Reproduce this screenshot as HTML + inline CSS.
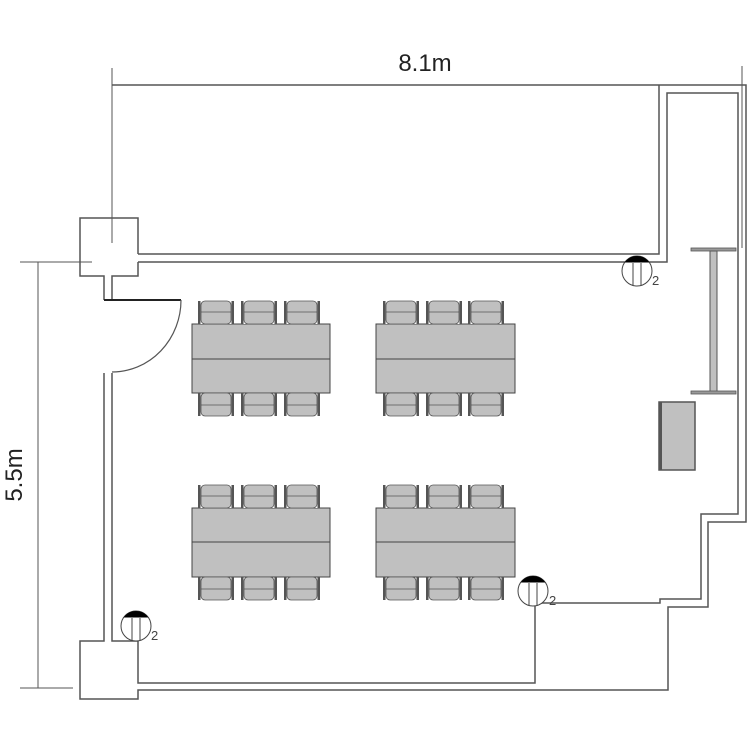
<!DOCTYPE html>
<html><head><meta charset="utf-8"><style>html,body{margin:0;padding:0;background:#fff}svg{display:block}</style></head>
<body>
<svg width="750" height="750" viewBox="0 0 750 750" xmlns="http://www.w3.org/2000/svg">
<defs>
<g id="chT">
  <rect x="0" y="0" width="36" height="24" fill="#fff"/>
  <rect x="3" y="1" width="30" height="23" rx="4" fill="#c0c0c0" stroke="#555" stroke-width="0.8"/>
  <line x1="3" y1="12" x2="33" y2="12" stroke="#555" stroke-width="0.8"/>
  <rect x="0" y="1" width="2.5" height="23" fill="#555"/>
  <rect x="33.5" y="1" width="2.5" height="23" fill="#555"/>
</g>
<g id="chB">
  <rect x="3" y="0" width="30" height="23" rx="4" fill="#c0c0c0" stroke="#555" stroke-width="0.8"/>
  <line x1="3" y1="12" x2="33" y2="12" stroke="#555" stroke-width="0.8"/>
  <rect x="0" y="0" width="2.5" height="23" fill="#555"/>
  <rect x="33.5" y="0" width="2.5" height="23" fill="#555"/>
</g>
<g id="outlet">
  <circle cx="0" cy="0" r="15" fill="#fff" stroke="#444" stroke-width="1"/>
  <path d="M-12.4,-8.5 A15,15 0 0 1 12.4,-8.5 Z" fill="#000"/>
  <line x1="-4" y1="-8" x2="-4" y2="15" stroke="#444" stroke-width="1"/>
  <line x1="4" y1="-8" x2="4" y2="15" stroke="#444" stroke-width="1"/>
</g>
</defs>
<g fill="none" stroke="#555" stroke-width="1.5">
  <!-- dimension lines -->
  <line x1="112" y1="68" x2="112" y2="243" stroke-width="1"/>
  <line x1="742" y1="66" x2="742" y2="248" stroke-width="1"/>
  <line x1="20" y1="262" x2="92" y2="262" stroke-width="1"/>
  <line x1="20" y1="688" x2="73" y2="688" stroke-width="1"/>
  <line x1="38" y1="262" x2="38" y2="688" stroke-width="1"/>
  <!-- top walls -->
  <polyline points="112,85 746,85 746,522 708,522 708,607 668,607 668,690 138,690 138,699 80,699 80,641 104,641 104,373"/>
  <polyline points="138,254 659,254 659,85"/>
  <polyline points="138,262 667,262 667,93 738,93 738,514 701,514 701,599 660,599 660,603 535,603 535,683 138,683 138,641 112,641 112,373"/>
  <polyline points="138,254 138,218 80,218 80,276 104,276 104,300"/>
  <polyline points="138,262 138,276 112,276 112,300"/>
  <line x1="104" y1="300" x2="181" y2="300" stroke="#222" stroke-width="2"/>
  <path d="M181,300 A69,72 0 0 1 112,372" stroke-width="1.2"/>
</g>
<!-- whiteboard -->
<rect x="691" y="248" width="45" height="3" fill="#999" stroke="#555" stroke-width="0.8"/>
<rect x="710" y="251" width="7" height="141" fill="#c0c0c0" stroke="#555" stroke-width="1"/>
<rect x="691" y="391" width="45" height="3" fill="#999" stroke="#555" stroke-width="0.8"/>
<!-- podium -->
<rect x="659" y="402" width="36" height="68" fill="#c0c0c0" stroke="#555" stroke-width="1.5"/>
<rect x="659" y="402" width="3" height="68" fill="#555"/>
<!-- tables -->
<g stroke="#444" stroke-width="1" fill="#c0c0c0">
  <rect x="192" y="324" width="138" height="69"/><line x1="192" y1="359" x2="330" y2="359"/>
  <rect x="376" y="324" width="139" height="69"/><line x1="376" y1="359" x2="515" y2="359"/>
  <rect x="192" y="508" width="138" height="69"/><line x1="192" y1="542" x2="330" y2="542"/>
  <rect x="376" y="508" width="139" height="69"/><line x1="376" y1="542" x2="515" y2="542"/>
</g>
<use href="#chT" x="198" y="300"/><use href="#chT" x="241" y="300"/><use href="#chT" x="284" y="300"/>
<use href="#chT" x="383" y="300"/><use href="#chT" x="426" y="300"/><use href="#chT" x="468" y="300"/>
<use href="#chB" x="198" y="393"/><use href="#chB" x="241" y="393"/><use href="#chB" x="284" y="393"/>
<use href="#chB" x="383" y="393"/><use href="#chB" x="426" y="393"/><use href="#chB" x="468" y="393"/>
<use href="#chT" x="198" y="484"/><use href="#chT" x="241" y="484"/><use href="#chT" x="284" y="484"/>
<use href="#chT" x="383" y="484"/><use href="#chT" x="426" y="484"/><use href="#chT" x="468" y="484"/>
<use href="#chB" x="198" y="577"/><use href="#chB" x="241" y="577"/><use href="#chB" x="284" y="577"/>
<use href="#chB" x="383" y="577"/><use href="#chB" x="426" y="577"/><use href="#chB" x="468" y="577"/>
<!-- outlets -->
<use href="#outlet" x="637" y="271"/>
<use href="#outlet" x="136" y="626"/>
<use href="#outlet" x="533" y="591"/>
<g font-family="Liberation Sans, sans-serif" fill="#444" font-size="13">
  <text x="652" y="285">2</text>
  <text x="151" y="640">2</text>
  <text x="549" y="605">2</text>
</g>
<g font-family="Liberation Sans, sans-serif" fill="#222" font-size="24">
  <text x="425" y="71" text-anchor="middle">8.1m</text>
  <text x="0" y="0" text-anchor="middle" transform="translate(22,475) rotate(-90)">5.5m</text>
</g>
</svg>
</body></html>
